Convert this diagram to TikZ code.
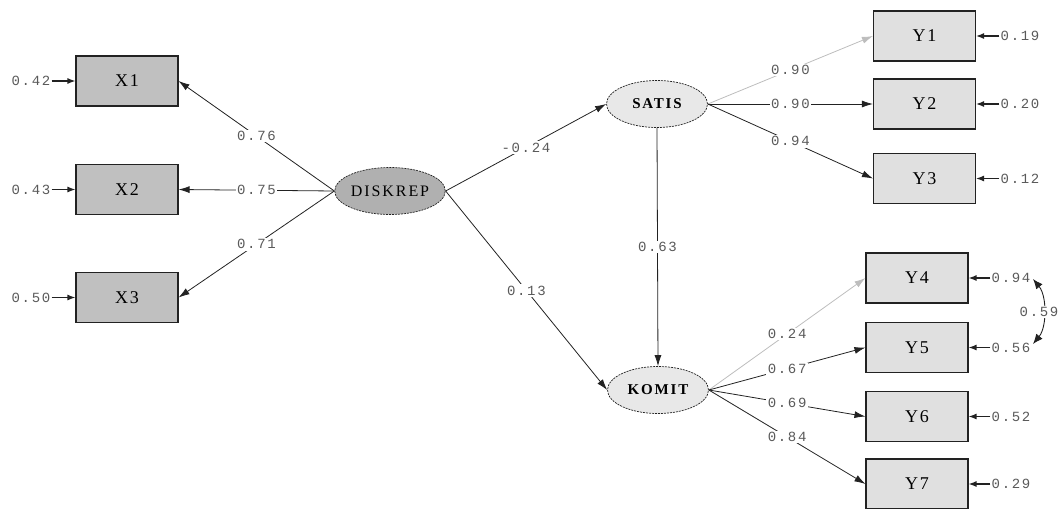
\documentclass[tikz,border=0pt]{standalone}
\usepackage{fontspec}
\setmainfont{Liberation Serif}
\newfontfamily\lblfont[LetterSpace=12]{Liberation Mono}
\newfontfamily\obsfont[LetterSpace=10]{Liberation Serif}
\newfontfamily\latfont[LetterSpace=12]{Liberation Serif}
\usetikzlibrary{arrows.meta,shapes.geometric}
\definecolor{darkfill}{HTML}{C0C0C0}
\definecolor{lightfill}{HTML}{E0E0E0}
\definecolor{latdark}{HTML}{B0B0B0}
\definecolor{latlight}{HTML}{E8E8E8}
\definecolor{lblcol}{HTML}{5A5A5A}
\definecolor{linecol}{HTML}{222222}
\definecolor{refcol}{HTML}{BDBDBD}
\tikzset{
  obsbox/.style={draw=linecol,line width=1.1pt,minimum width=102pt,minimum height=50pt,inner sep=0pt,font=\obsfont\fontsize{18}{20}\selectfont},
  xbox/.style={obsbox,fill=darkfill},
  ybox/.style={obsbox,fill=lightfill},
  latent/.style={ellipse,draw=linecol,line width=0.7pt,dash pattern=on 2pt off 1pt,inner sep=0pt},
  latd/.style={latent,fill=latdark,minimum width=104pt,minimum height=47pt,font=\latfont\fontsize{16}{18}\selectfont},
  latl/.style={latent,fill=latlight,minimum width=101pt,minimum height=47pt,font=\latfont\bfseries\fontsize{15}{17}\selectfont},
  lbl/.style={fill=white,inner sep=1.5pt,text=lblcol,font=\lblfont\fontsize{14}{16}\selectfont},
  elbl/.style={inner sep=1pt,text=lblcol,font=\lblfont\fontsize{14}{16}\selectfont},
  path/.style={draw=linecol,line width=0.8pt,-{Latex[length=11pt,width=7pt]}},
  refpath/.style={path,draw=refcol},
  errarr/.style={draw=linecol,line width=1.3pt,-{Latex[length=8pt,width=6pt]}},
  covarr/.style={draw=linecol,line width=0.9pt,{Latex[length=10pt,width=8pt]}-{Latex[length=10pt,width=8pt]}}
}
\begin{document}
\begin{tikzpicture}[x=1pt,y=-1pt]
\useasboundingbox (0,0) rectangle (1061,509);
% observed X
\node[xbox] (X1) at (127,81) {X1};
\node[xbox] (X2) at (127,189.5) {X2};
\node[xbox] (X3) at (127,297.5) {X3};
% observed Y
\node[ybox] (Y1) at (924.5,36) {Y1};
\node[ybox] (Y2) at (924.5,104) {Y2};
\node[ybox] (Y3) at (924.5,178.5) {Y3};
\node[ybox] (Y4) at (917,278) {Y4};
\node[ybox] (Y5) at (917,347.5) {Y5};
\node[ybox] (Y6) at (917,416.5) {Y6};
\node[ybox] (Y7) at (917,484) {Y7};
% latent
\node[latd] (D) at (390,191) {DISKREP};
\node[latl] (S) at (657,104) {SATIS};
\node[latl] (K) at (658,390) {KOMIT};
% loadings X
\draw[path] (D.west) -- node[lbl] {0.76} (X1.east);
\draw[path] (D.west) -- node[lbl] {0.75} (X2.east);
\draw[path] (D.west) -- node[lbl] {0.71} (X3.east);
% structural
\draw[path] (D.east) -- node[lbl] {-0.24} (S.west);
\draw[path] (D.east) -- node[lbl] {0.13} (K.west);
\draw[path] (S.south) -- node[lbl] {0.63} (K.north);
% loadings Y
\draw[refpath] (S.east) -- node[lbl] {0.90} (Y1.west);
\draw[path] (S.east) -- node[lbl] {0.90} (Y2.west);
\draw[path] (S.east) -- node[lbl] {0.94} (Y3.west);
\draw[refpath] (K.east) -- node[lbl] {0.24} (Y4.west);
\draw[path] (K.east) -- node[lbl] {0.67} (Y5.west);
\draw[path] (K.east) -- node[lbl] {0.69} (Y6.west);
\draw[path] (K.east) -- node[lbl] {0.84} (Y7.west);
% error terms X
\node[elbl] (ex1) at (31,81) {0.42};
\node[elbl] (ex2) at (31,189.5) {0.43};
\node[elbl] (ex3) at (31,297.5) {0.50};
\draw[errarr] (ex1) -- (X1.west);
\draw[errarr] (ex2) -- (X2.west);
\draw[errarr] (ex3) -- (X3.west);
% error terms Y
\node[elbl] (ey1) at (1020,36) {0.19};
\node[elbl] (ey2) at (1020,104) {0.20};
\node[elbl] (ey3) at (1020,178.5) {0.12};
\node[elbl] (ey4) at (1011,278) {0.94};
\node[elbl] (ey5) at (1011,347.5) {0.56};
\node[elbl] (ey6) at (1011,416.5) {0.52};
\node[elbl] (ey7) at (1011,484) {0.29};
\draw[errarr] (ey1) -- (Y1.east);
\draw[errarr] (ey2) -- (Y2.east);
\draw[errarr] (ey3) -- (Y3.east);
\draw[errarr] (ey4) -- (Y4.east);
\draw[errarr] (ey5) -- (Y5.east);
\draw[errarr] (ey6) -- (Y6.east);
\draw[errarr] (ey7) -- (Y7.east);
% covariance
\coordinate (c1) at (1033,279);
\coordinate (c2) at (1033,344);
\draw[covarr] (c1) .. controls (1047,296) and (1047,327) .. (c2);
\node[lbl] (cov) at (1039,312) {0.59};
\end{tikzpicture}
\end{document}
